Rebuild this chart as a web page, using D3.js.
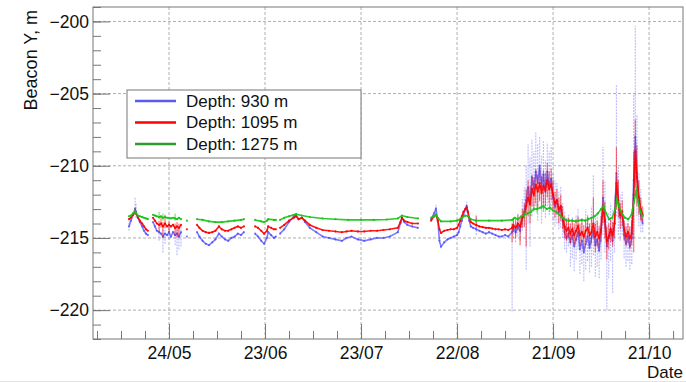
<!DOCTYPE html>
<html>
<head>
<meta charset="utf-8">
<script src="https://cdn.jsdelivr.net/npm/d3@7"></script>
<style>
  body { margin: 0; background: #fff; }
  text { font-family: "Liberation Sans", Arial, sans-serif; fill: #111; }
</style>
</head>
<body>
<svg id="chart" width="686" height="382"></svg>
<script>
// day 0 = 24/05
const startDay = Date.UTC(2020, 4, 24);
const dayMs = 864e5;
const xTickLabels = ["24/05", "23/06", "23/07", "22/08", "21/09", "21/10"];
const yTicks = [-200, -205, -210, -215, -220];
const seriesNames = ["Depth: 930 m", "Depth: 1095 m", "Depth: 1275 m"];
const seriesColors = ["#4646ff", "#ff0000", "#14c414"];
const legendColors = ["#5a5af0", "#ff0000", "#2f9a2f"];

// rows: [day, value, low, high], null = gap in data
const blue930 = [
  [-12.5,-214.2,-214.5,-213.8],[-11.9,-213.8],[-11.25,-213.4],[-10.6,-213.0,-213.4,-212.2],[-10.3,-213.2,-213.6,-212.6],[-9.7,-213.6],[-9.1,-213.9],[-8.4,-214.2],[-7.8,-214.5],[-7.2,-214.7],[-6.6,-214.8],
  null,
  [-5,-213.9],[-4.4,-214.2],[-3.8,-214.5],[-3.1,-214.6,-215.2,-214.2],[-2.5,-214.7],[-1.9,-214.9,-216.0,-214.4],[-1.25,-214.7,-215.4,-214.2],[-0.6,-214.8],[0,-214.6,-215.1,-214.2],[0.6,-214.9],[1.25,-214.6],[1.9,-214.8,-215.5,-214.3],[2.5,-214.7,-216.2,-214.2],[3.1,-214.9,-215.8,-214.4],[3.75,-214.6,-215.6,-214.2],
  null, [5.6,-214.9], null,
  [8.75,-214.6],[9.5,-214.9],[10.5,-215.2],[11.5,-215.4],[12.5,-215.5],[13.5,-215.3],[14.5,-215.1],[15.6,-214.7],[16.5,-214.9],[17.5,-215.1],[18.5,-215.2],[19.5,-215.0],[20.5,-214.9],[21.5,-214.7],[22.5,-214.8],[23.4,-214.6],
  null,
  [26.9,-214.7],[27.8,-214.9],[28.8,-215.2],[29.7,-215.4],[30.6,-215.0],[31.0,-214.6],[31.9,-214.8],[32.8,-215.0],[33.4,-214.9],
  null,
  [34.7,-214.7],[36,-214.4],[37.5,-213.9],[39,-213.5],[39.7,-213.4],[40.5,-213.7],[41.5,-213.6],[42.5,-213.9],[44,-214.3],[46,-214.6],[48,-214.9],[50,-215.0],[52,-215.1],[54,-215.2],[55.5,-215.0],[57,-214.9],[59,-215.1],[61,-215.2],[63,-215.1],[65,-215.0],[67,-215.0],[69,-214.9],[71.5,-214.6],[72.3,-214.0],[72.8,-213.6],[73.5,-213.9],[74.5,-214.1],[76,-214.2],[77.8,-214.3],
  null,
  [81.9,-213.7],[82.8,-213.3],[83.4,-213.0,-213.4,-212.7],[84.0,-213.8],[84.5,-215.2],[85.0,-215.6],[86,-215.3],[87,-215.1],[88,-215.0],[89,-214.9],[90,-214.8],[90.5,-214.6],[91,-214.2],[91.5,-213.8],[92,-213.4],[92.6,-213.0],[93,-212.8,-213.2,-212.5],[93.4,-213.2],[93.8,-213.8],[94.3,-214.2],[95,-214.3],[96,-214.4,-214.8,-213.3],[97,-214.5],[98,-214.6],[99,-214.7],[100,-214.6],[101,-214.7],[102,-214.8],[103,-214.9],[104,-214.9],[105,-214.8],[106,-214.9],[107.2,-214.6,-220.1,-214.0],
  [107.6,-214.3,-215.0,-213.6],[108.3,-214.6,-215.3,-213.8],[109.0,-214.2,-214.9,-213.3],[109.7,-214.5,-215.2,-213.6],[110.4,-213.6,-214.5,-212.3],[111.0,-213.2,-214.3,-211.5],[111.6,-212.4,-217.2,-210.0],[112.2,-211.5,-214.0,-208.5],[112.8,-212.6,-215.6,-209.4],[113.4,-210.8,-213.5,-208.2],[114.0,-211.6,-213.2,-209.0],[114.6,-210.4,-212.8,-207.7],[115.2,-211.2,-213.8,-208.5],[115.8,-210.0,-212.5,-208.0],[116.4,-211.5,-214.0,-209.3],[117.0,-210.6,-213.0,-208.3],[117.6,-211.8,-213.6,-209.6],[118.2,-210.4,-212.8,-208.4],[118.8,-211.4,-213.4,-209.0],[119.4,-210.9,-213.0,-208.6],
  [120.0,-212.2,-213.8,-210.5],[120.6,-212.8,-214.2,-211.0],[121.2,-212.4,-214.0,-211.2],[121.8,-213.2,-214.4,-211.8],[122.4,-212.9,-214.3,-211.4],[123.0,-213.8,-215.0,-212.6],[123.6,-214.6,-215.8,-213.2],[124.2,-215.0,-216.0,-213.6],[124.8,-214.7,-215.6,-213.4],[125.4,-215.3,-217.0,-214.0],[126.0,-214.8,-216.4,-213.5],[126.6,-215.6,-217.3,-214.2],[127.2,-215.1,-216.5,-213.4],[127.8,-214.6,-215.8,-213.0],[128.4,-215.8,-217.5,-214.3],[129.0,-215.2,-216.8,-213.6],[129.6,-216.0,-218.0,-214.5],[130.2,-215.4,-217.2,-213.0],[130.8,-214.9,-216.6,-213.4],[131.4,-215.7,-217.4,-214.0],
  [132.0,-215.0,-217.0,-212.8],[132.6,-214.5,-216.2,-210.6],[133.2,-215.5,-217.7,-213.5],[133.8,-215.1,-217.0,-213.2],[134.4,-215.9,-217.8,-214.0],[135.0,-214.6,-216.5,-213.0],[135.6,-212.2,-214.8,-208.7],[136.2,-213.8,-216.0,-211.0],[136.8,-215.6,-220.0,-213.5],[137.4,-215.0,-217.8,-213.2],[138.0,-214.4,-216.6,-212.6],[138.6,-215.2,-218.8,-213.0],[139.2,-214.0,-216.0,-212.0],[139.8,-210.5,-213.5,-204.4],[140.4,-212.6,-214.8,-210.0],[141.0,-213.6,-215.2,-212.0],[141.6,-213.2,-214.8,-211.8],[142.2,-214.8,-216.4,-213.5],[142.8,-215.4,-217.0,-214.0],[143.4,-214.9,-216.6,-213.6],
  [144.0,-215.6,-217.2,-214.2],[144.6,-215.0,-216.8,-213.0],[145.2,-211.0,-215.0,-205.0],[145.7,-208.0,-212.0,-200.3],[146.2,-210.5,-213.5,-206.5],[146.8,-212.4,-214.2,-210.5],[147.4,-213.4,-214.6,-211.6],[148.0,-214.0,-214.6,-213.2]
];

const red1095 = [
  [-12.5,-213.7],[-11.9,-213.6],[-11.25,-213.4],[-10.6,-213.2,-213.4,-212.9],[-10.3,-213.3],[-9.7,-213.6],[-9.1,-213.8],[-8.4,-214.0],[-7.8,-214.2],[-7.2,-214.4],[-6.6,-214.5],
  null,
  [-5,-213.6],[-4.4,-213.8],[-3.8,-214.0],[-3.1,-214.1,-214.6,-213.8],[-2.5,-214.0,-214.3,-213.5],[-1.9,-214.2,-215.0,-213.9],[-1.25,-214.0,-214.3,-213.4],[-0.6,-214.2],[0,-214.1,-214.6,-213.8],[0.6,-214.2],[1.25,-214.1],[1.9,-214.3,-214.9,-214.0],[2.5,-214.2,-215.0,-213.9],[3.1,-214.3,-214.9,-214.0],[3.75,-214.1],
  null, [5.6,-214.4], null,
  [8.75,-214.1],[9.5,-214.3],[10.5,-214.5],[11.5,-214.6],[12.5,-214.65],[13.5,-214.6],[14.5,-214.5],[15.6,-214.2],[16.5,-214.4],[17.5,-214.5],[18.5,-214.5],[19.5,-214.4],[20.5,-214.3],[21.5,-214.2],[22.5,-214.3],[23.4,-214.2],
  null,
  [26.9,-214.2],[27.8,-214.3],[28.8,-214.5],[29.7,-214.7],[30.6,-214.5],[31.0,-214.2],[31.9,-214.3],[32.8,-214.4],[33.4,-214.4],
  null,
  [34.7,-214.3],[36,-214.1],[37.5,-213.8],[39,-213.6],[39.7,-213.5],[40.5,-213.7],[41.5,-213.6],[42.5,-213.8],[44,-214.1],[46,-214.3],[48,-214.45],[50,-214.5],[52,-214.55],[54,-214.6],[55.5,-214.55],[57,-214.5],[59,-214.55],[61,-214.55],[63,-214.5],[65,-214.5],[67,-214.45],[69,-214.4],[71.5,-214.3],[72.3,-213.9],[72.8,-213.6],[73.5,-213.8],[74.5,-213.9],[76,-214.0],[77.8,-214.0],
  null,
  [81.9,-213.8],[82.8,-213.5],[83.4,-213.4],[84.0,-213.8],[84.5,-214.4],[85.0,-214.65],[86,-214.5],[87,-214.45],[88,-214.4],[89,-214.4],[90,-214.3],[90.5,-214.1],[91,-213.8],[91.5,-213.5],[92,-213.2],[92.6,-213.0],[93,-212.9],[93.4,-213.2],[93.8,-213.6],[94.3,-213.9],[95,-214.0],[96,-214.1,-214.3,-213.5],[97,-214.2],[98,-214.25],[99,-214.3],[100,-214.3],[101,-214.35],[102,-214.4],[103,-214.4],[104,-214.45],[105,-214.4],[106,-214.45],[107.2,-214.3,-215.3,-214.0],
  [107.6,-214.1,-214.6,-213.6],[108.3,-214.3,-215.0,-213.7],[109.0,-214.0,-214.5,-213.4],[109.7,-214.2,-215.5,-213.6],[110.4,-213.6,-214.3,-213.0],[111.0,-213.4,-214.2,-212.6],[111.6,-212.8,-215.6,-211.6],[112.2,-212.2,-213.5,-211.0],[112.8,-212.7,-214.0,-211.4],[113.4,-211.6,-212.8,-210.6],[114.0,-212.0,-213.0,-210.8],[114.6,-211.3,-212.6,-210.2],[115.2,-211.8,-213.0,-210.6],[115.8,-211.2,-212.4,-210.1],[116.4,-211.9,-213.0,-210.7],[117.0,-211.4,-212.6,-210.3],[117.6,-211.7,-212.8,-210.5],[118.2,-211.0,-212.2,-209.8],[118.8,-211.6,-212.6,-210.4],[119.4,-211.3,-212.4,-210.2],
  [120.0,-212.0,-213.0,-211.0],[120.6,-212.6,-213.6,-211.8],[121.2,-212.4,-213.4,-211.6],[121.8,-213.0,-214.0,-212.2],[122.4,-212.8,-213.8,-212.0],[123.0,-213.6,-214.4,-212.8],[123.6,-214.2,-215.0,-213.5],[124.2,-214.5,-215.2,-213.8],[124.8,-214.3,-215.0,-213.6],[125.4,-214.7,-215.4,-214.0],[126.0,-214.4,-215.1,-213.7],[126.6,-214.8,-215.5,-214.0],[127.2,-214.5,-215.2,-213.7],[127.8,-214.2,-214.9,-213.5],[128.4,-214.8,-215.6,-214.0],[129.0,-214.6,-215.3,-213.8],[129.6,-214.9,-215.8,-214.1],[130.2,-214.5,-215.3,-213.7],[130.8,-214.3,-215.0,-213.5],[131.4,-214.8,-215.6,-214.0],
  [132.0,-214.6,-215.4,-213.6],[132.6,-214.0,-215.0,-212.2],[133.2,-214.9,-216.0,-214.0],[133.8,-214.6,-215.6,-213.8],[134.4,-215.0,-215.8,-214.2],[135.0,-214.4,-215.3,-213.5],[135.6,-212.8,-214.0,-211.0],[136.2,-213.8,-215.0,-212.5],[136.8,-215.2,-216.5,-214.2],[137.4,-214.9,-215.8,-214.0],[138.0,-214.4,-215.3,-213.6],[138.6,-214.8,-215.6,-213.9],[139.2,-214.0,-215.0,-213.0],[139.8,-211.2,-213.0,-208.7],[140.4,-212.4,-213.6,-211.0],[141.0,-213.4,-214.4,-212.6],[141.6,-213.2,-214.2,-212.4],[142.2,-214.4,-215.2,-213.8],[142.8,-214.9,-215.6,-214.2],[143.4,-214.6,-215.4,-214.0],
  [144.0,-215.0,-215.8,-214.2],[144.6,-214.7,-215.5,-213.8],[145.2,-212.0,-216.0,-209.0],[145.7,-209.0,-211.5,-206.8],[146.2,-210.8,-212.8,-208.6],[146.8,-212.2,-213.4,-211.0],[147.4,-213.0,-213.8,-212.2],[148.0,-213.4,-213.9,-212.8]
];

const green1275 = [
  [-12.5,-213.5],[-11.9,-213.45],[-11.25,-213.3],[-10.6,-213.2,-213.3,-212.9],[-10.3,-213.3],[-9.7,-213.45],[-9.1,-213.5],[-8.4,-213.55],[-7.8,-213.6],[-7.2,-213.65],[-6.6,-213.7],
  null,
  [-5,-213.4],[-4.4,-213.45],[-3.8,-213.5],[-3.1,-213.55,-213.7,-213.2],[-2.5,-213.5],[-1.9,-213.6,-213.8,-213.3],[-1.25,-213.55],[-0.6,-213.6],[0,-213.6],[0.6,-213.65],[1.25,-213.6],[1.9,-213.65,-213.8,-213.3],[2.5,-213.7],[3.1,-213.6],[3.75,-213.7],
  null, [5.6,-213.8], null,
  [8.75,-213.7],[10.5,-213.75],[12.5,-213.85],[14.5,-213.9],[16.5,-213.9],[18.5,-213.85],[20.5,-213.8],[22.5,-213.75],[23.4,-213.7],
  null,
  [26.9,-213.75],[28.8,-213.85],[29.7,-213.9],[30.6,-213.8],[31.0,-213.7],[32.8,-213.75],[33.4,-213.75],
  null,
  [34.7,-213.75],[36,-213.6],[37.5,-213.5],[39,-213.4],[39.7,-213.35],[41.5,-213.45],[44,-213.55],[48,-213.65],[52,-213.7],[56,-213.75],[60,-213.75],[64,-213.75],[68,-213.72],[71.5,-213.65],[72.8,-213.45],[74.5,-213.55],[77.8,-213.65],
  null,
  [81.9,-213.6],[82.8,-213.5],[83.4,-213.4],[84,-213.6],[85,-213.85],[88,-213.85],[90,-213.8],[91.5,-213.6],[92.6,-213.45],[93.4,-213.5],[94.3,-213.7],[96,-213.8],[100,-213.8],[104,-213.8],[107.2,-213.75],
  [108,-213.6],[109,-213.7],[110,-213.5],[111,-213.4,-213.7,-213.1],[112,-213.3],[113,-213.2,-213.5,-212.8],[114,-213.0],[115,-213.0,-213.3,-212.6],[116,-212.9],[117,-212.8,-213.2,-212.5],[118,-213.0],[119,-212.9,-213.2,-212.6],[120,-213.1],[121,-213.2],[122,-213.4],[123,-213.6],[124,-213.75],[125,-213.8],[126,-213.8],[127,-213.85],
  [128,-213.8],[129,-213.75],[130,-213.8],[131,-213.7],[132,-213.6],[133,-213.5],[134,-213.3],[135,-213.0],[135.8,-212.8,-213.2,-212.5],[136.6,-213.3],[137.5,-213.7],[138.5,-213.6],[139.4,-213.0],[140,-212.3,-212.8,-212.0],[140.6,-212.8],[141.5,-213.3],[142.5,-213.6],[143.5,-213.7],[144.5,-213.4],[145.3,-212.5],[146,-211.7,-212.3,-211.4],[146.6,-212.5],[147.3,-213.2],[148,-213.5]
];

const svg = d3.select("#chart");
const plot = { left: 93, right: 683, top: 7, bottom: 339 };

const dayToDate = d => new Date(startDay + d * dayMs);
const x = d3.scaleUtc()
  .domain([dayToDate(-23.75), dayToDate(160.6)])
  .range([plot.left, plot.right]);
const y = d3.scaleLinear()
  .domain([-222, -199])
  .range([plot.bottom, plot.top]);

const parseTick = d3.utcParse("%d/%m/%Y");
const xTicks = xTickLabels.map(l => parseTick(l + "/2020"));
const xMinor = d3.range(-22.5, 161, 7.5).map(dayToDate);
const yMinor = d3.range(-222, -198.5, 1);

// grid
const grid = svg.append("g").attr("stroke", "#9a9a9a").attr("stroke-dasharray", "3,2").attr("stroke-width", 0.8);
grid.selectAll(".gx").data(xTicks).enter().append("line")
  .attr("x1", d => x(d)).attr("x2", d => x(d))
  .attr("y1", plot.top).attr("y2", plot.bottom);
grid.selectAll(".gy").data(yTicks).enter().append("line")
  .attr("x1", plot.left).attr("x2", plot.right)
  .attr("y1", d => y(d)).attr("y2", d => y(d));

// series
const allSeries = [blue930, red1095, green1275];
const line = d3.line()
  .defined(r => r != null)
  .x(r => x(dayToDate(r[0])))
  .y(r => y(r[1]));

allSeries.forEach((rows, i) => {
  const g = svg.append("g");
  const col = seriesColors[i];
  const bars = rows.filter(r => r && r.length > 2);
  g.selectAll("line").data(bars).enter().append("line")
    .attr("x1", r => x(dayToDate(r[0]))).attr("x2", r => x(dayToDate(r[0])))
    .attr("y1", r => y(r[2])).attr("y2", r => y(r[3]))
    .attr("stroke", col)
    .attr("stroke-opacity", i == 0 ? 0.35 : 0.55)
    .attr("stroke-width", 1.2)
    .attr("stroke-dasharray", i == 0 ? "2,1" : null);
  g.append("path").datum(rows)
    .attr("d", line)
    .attr("fill", "none")
    .attr("stroke", col)
    .attr("stroke-opacity", i == 0 ? 0.7 : 0.9)
    .attr("stroke-width", 1.6);
  g.selectAll("circle").data(rows.filter(r => r)).enter().append("circle")
    .attr("cx", r => x(dayToDate(r[0])))
    .attr("cy", r => y(r[1]))
    .attr("r", 1.1)
    .attr("fill", col)
    .attr("fill-opacity", i == 0 ? 0.7 : 0.9);
});

// frame
svg.append("rect")
  .attr("x", plot.left).attr("y", plot.top)
  .attr("width", plot.right - plot.left).attr("height", plot.bottom - plot.top)
  .attr("fill", "none").attr("stroke", "#777");

// y axis
const yAxis = svg.append("g").attr("transform", `translate(${plot.left},0)`)
  .call(d3.axisLeft(y).tickValues(yTicks).tickSize(-17).tickPadding(5).tickFormat(d3.format("d")));
const yMinorAxis = svg.append("g").attr("transform", `translate(${plot.left},0)`)
  .call(d3.axisLeft(y).tickValues(yMinor).tickSize(-8).tickFormat(""));

// x axis
const xAxis = svg.append("g").attr("transform", `translate(0,${plot.bottom})`)
  .call(d3.axisBottom(x).tickValues(xTicks).tickSize(-15).tickPadding(5).tickFormat(d3.utcFormat("%d/%m")));
const xMinorAxis = svg.append("g").attr("transform", `translate(0,${plot.bottom})`)
  .call(d3.axisBottom(x).tickValues(xMinor).tickSize(-8).tickFormat(""));

[yAxis, yMinorAxis, xAxis, xMinorAxis].forEach(a => {
  a.select(".domain").remove();
  a.selectAll(".tick line").attr("stroke", "#777");
});
[yAxis, xAxis].forEach(a => a.selectAll("text")
  .style("font-family", '"Liberation Sans", Arial, sans-serif')
  .style("font-size", "17.5px")
  .attr("fill", "#111"));
xAxis.selectAll("text").attr("y", 8).attr("dy", "0.71em");
yAxis.selectAll("text").attr("x", -4);

// axis titles
svg.append("text")
  .attr("transform", "translate(37,10) rotate(-90)")
  .attr("text-anchor", "end")
  .style("font-size", "18px")
  .text("Beacon Y, m");
svg.append("text")
  .attr("x", 683).attr("y", 378)
  .attr("text-anchor", "end")
  .style("font-size", "17px")
  .text("Date");

// legend
const legend = svg.append("g").attr("transform", "translate(127,90)");
legend.append("rect")
  .attr("width", 234).attr("height", 68)
  .attr("fill", "#fff").attr("stroke", "#777");
seriesNames.forEach((name, i) => {
  const yy = 11 + i * 21.5;
  legend.append("line")
    .attr("x1", 8).attr("x2", 49).attr("y1", yy).attr("y2", yy)
    .attr("stroke", legendColors[i]).attr("stroke-width", 2.5);
  legend.append("text")
    .attr("x", 59).attr("y", yy).attr("dy", "0.35em")
    .style("font-size", "17px")
    .text(name);
});

// bottom edge of the canvas
svg.append("line").attr("x1", 0).attr("x2", 686).attr("y1", 381.5).attr("y2", 381.5)
  .attr("stroke", "#e4e4e4");
</script>
</body>
</html>
